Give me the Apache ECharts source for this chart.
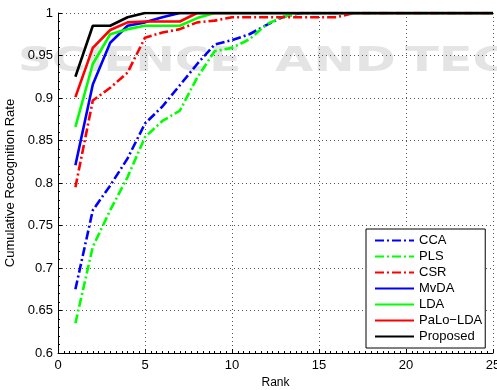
<!DOCTYPE html>
<html>
<head>
<meta charset="utf-8">
<script src="https://cdn.jsdelivr.net/npm/echarts@6/dist/echarts.min.js"></script>
<style>html,body{margin:0;padding:0;background:#fff}#c{width:497px;height:390px}</style>
</head>
<body>
<div id="c"></div>
<script>
var ranks = [1,2,3,4,5,6,7,8,9,10,11,12,13,14,15,16,17,18,19,20,21,22,23,24,25];
var xTicks = [0,5,10,15,20,25];
var yTicks = [0.6,0.65,0.7,0.75,0.8,0.85,0.9,0.95,1];
var seriesNames = ['CCA','PLS','CSR','MvDA','LDA','PaLo\u2212LDA','Proposed'];
var cca = [0.675,0.768,0.797,0.829,0.870,0.890,0.915,0.940,0.963,0.968,0.975,0.986,0.996,1,1,1,1,1,1,1,1,1,1,1,1];
var pls = [0.635,0.725,0.768,0.807,0.854,0.873,0.885,0.924,0.955,0.959,0.969,0.987,0.996,1,1,1,1,1,1,1,1,1,1,1,1];
var csr = [0.795,0.897,0.912,0.930,0.971,0.977,0.981,0.989,0.991,0.995,0.995,0.995,0.995,0.995,0.995,0.995,1,1,1,1,1,1,1,1,1];
var mvda = [0.821,0.916,0.965,0.985,0.989,0.995,1,1,1,1,1,1,1,1,1,1,1,1,1,1,1,1,1,1,1];
var lda = [0.866,0.940,0.975,0.981,0.985,0.985,0.985,0.994,1,1,1,1,1,1,1,1,1,1,1,1,1,1,1,1,1];
var palo = [0.901,0.959,0.980,0.989,0.990,0.990,0.990,1,1,1,1,1,1,1,1,1,1,1,1,1,1,1,1,1,1];
var proposed = [0.925,0.985,0.985,0.995,1,1,1,1,1,1,1,1,1,1,1,1,1,1,1,1,1,1,1,1,1];

var values = [cca, pls, csr, mvda, lda, palo, proposed];
var colors = ['#0000ff','#00ff00','#ff0000','#0000ff','#00ff00','#ff0000','#000000'];
var dashDot = [9,3,2,3];
var types = [dashDot, dashDot, dashDot, 'solid','solid','solid','solid'];

function pairs(arr){ return ranks.map(function(r,i){ return [r, arr[i]]; }); }

var FONT = '"Liberation Sans", Arial, sans-serif';
var chart = echarts.init(document.getElementById('c'), null, {renderer:'canvas'});
var series = seriesNames.map(function(n,i){
  return {
    name: n, type: 'line', data: pairs(values[i]), symbol: 'none', z: 3 + i,
    lineStyle: {color: colors[i], width: 2.6, type: types[i]},
    itemStyle: {color: colors[i]}, animation: false
  };
});

chart.setOption({
  animation: false,
  backgroundColor: '#fff',
  graphic: [
    {type:'text', z: 0, left: 18, top: 46, scaleX: 1.42, style:{text:'SCIENCE', font:'bold 33px "DejaVu Sans"', fill:'#e4e4e4'}},
    {type:'text', z: 0, left: 275, top: 46, scaleX: 1.5, style:{text:'AND', font:'bold 33px "DejaVu Sans"', fill:'#e4e4e4'}},
    {type:'text', z: 0, left: 405, top: 46, scaleX: 1.5, style:{text:'TECHNOLOGY', font:'bold 33px "DejaVu Sans"', fill:'#e4e4e4'}}
  ],
  grid: {left: 58, right: 4, top: 13, bottom: 37, containLabel: false, outerBoundsMode: 'none'},
  legend: {
    show: true,
    orient: 'vertical', left: 366, top: 229, data: seriesNames,
    backgroundColor: '#fff', borderColor: '#000', borderWidth: 1,
    padding: [5, 3, 5, 8], itemWidth: 39, itemHeight: 14, itemGap: 3,
    itemStyle: {opacity: 0},
    textStyle: {fontFamily: FONT, fontSize: 13, color: '#000'}
  },
  xAxis: {
    type: 'value', min: 0, max: 25, interval: 5,
    name: 'Rank', nameLocation: 'middle', nameGap: 24,
    nameTextStyle: {fontFamily: FONT, fontSize: 12, color: '#000'},
    axisLine: {show: true, onZero: false, lineStyle: {color: '#000', width: 1}},
    axisTick: {show: true, inside: true, length: 4, lineStyle: {color: '#000'}},
    minorTick: {show: true, splitNumber: 15, length: 2, lineStyle: {color: '#000'}},
    axisLabel: {fontFamily: FONT, fontSize: 13, color: '#000', margin: 6},
    splitLine: {show: true, lineStyle: {color: '#555', type: [1,3], width: 1}}
  },
  yAxis: {
    type: 'value', min: 0.6, max: 1, interval: 0.05,
    name: 'Cumulative Recognition Rate', nameLocation: 'middle', nameGap: 36,
    nameTextStyle: {fontFamily: FONT, fontSize: 13, color: '#000'},
    axisLine: {show: true, onZero: false, lineStyle: {color: '#000', width: 1}},
    axisTick: {show: true, inside: true, length: 4, lineStyle: {color: '#000'}},
    minorTick: {show: true, splitNumber: 5, length: 2, lineStyle: {color: '#000'}},
    axisLabel: {fontFamily: FONT, fontSize: 13, color: '#000', margin: 5},
    splitLine: {show: true, lineStyle: {color: '#555', type: [1,3], width: 1}}
  },
  series: series
});
</script>
</body>
</html>
